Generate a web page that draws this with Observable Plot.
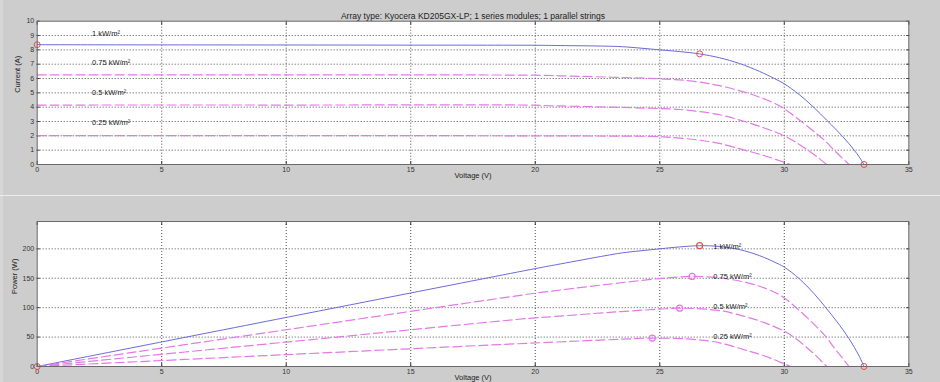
<!DOCTYPE html>
<html><head><meta charset="utf-8">
<script src="https://cdn.jsdelivr.net/npm/d3@7"></script>
<script src="https://cdn.jsdelivr.net/npm/@observablehq/plot@0.6"></script>
<style>
body{margin:0;background:#cdcdcd}
#fig{position:relative;width:940px;height:382px;background:#cdcdcd;overflow:hidden;font-family:"Liberation Sans",Arial,sans-serif}
.sep{position:absolute;left:0;top:195px;width:940px;height:1px;background:#ececec}
.edge{position:absolute;left:0;top:0;width:3px;height:382px;background:#d6d6d6}
#top,#bot{position:absolute;left:0}
#top{top:0}
#bot{top:196px}
</style>
</head><body>
<div id="fig"><div class="edge"></div><div class="sep"></div><div id="top"></div><div id="bot"></div></div>
<script>
// ---- data ----
const title = "Array type: Kyocera KD205GX-LP; 1 series modules; 1 parallel strings";
const seriesNames = ["1 kW/m²", "0.75 kW/m²", "0.5 kW/m²", "0.25 kW/m²"];

const V_1000 = [0, 3.4, 10, 15, 20, 21, 22.8, 23.5, 25, 25.8, 26.6, 27.4, 28.2, 29.0, 29.6, 30.0, 30.6, 31.2, 31.7, 32.1, 32.6, 33.0, 33.2];
const I_1000 = [8.36, 8.35, 8.34, 8.33, 8.32, 8.30, 8.26, 8.22, 8.00, 7.88, 7.72, 7.45, 7.05, 6.50, 6.00, 5.63, 4.88, 3.96, 3.10, 2.40, 1.45, 0.55, 0];
const P_1000 = [0, 28.4, 83.4, 125.0, 166.4, 174.3, 188.3, 193.2, 200.0, 203.3, 205.4, 204.1, 198.8, 188.5, 177.6, 168.9, 149.3, 123.6, 98.3, 77.0, 47.3, 18.2, 0];

const V_750 = [0, 10, 20, 21, 23.1, 25, 26.3, 27.4, 28.5, 29.3, 29.9, 30.5, 31.3, 31.7, 32.0, 32.3, 32.6];
const I_750 = [6.25, 6.25, 6.23, 6.19, 6.09, 5.98, 5.82, 5.50, 5.00, 4.50, 4.00, 3.25, 2.15, 1.55, 1.00, 0.50, 0];
const P_750 = [0, 62.5, 124.6, 130.0, 140.7, 149.5, 153.1, 150.7, 142.5, 131.9, 119.6, 99.1, 67.3, 49.1, 32.0, 16.2, 0];

const V_500 = [0, 10, 20, 20.6, 23.1, 25, 25.8, 27.4, 28.4, 29.2, 30.0, 30.4, 30.9, 31.3, 31.7];
const I_500 = [4.15, 4.15, 4.14, 4.10, 4.00, 3.90, 3.84, 3.47, 3.00, 2.55, 2.00, 1.62, 1.05, 0.55, 0];
const P_500 = [0, 41.5, 82.8, 84.5, 92.4, 97.5, 99.1, 95.1, 85.2, 74.5, 60.0, 49.2, 32.4, 17.2, 0];

const V_250 = [0, 10, 20, 23.4, 24.7, 25.5, 26.5, 27.4, 28.4, 28.8, 29.5, 30.0, 30.25];
const I_250 = [2.02, 2.02, 2.00, 1.98, 1.96, 1.88, 1.72, 1.47, 1.00, 0.82, 0.45, 0.15, 0];
const P_250 = [0, 20.2, 40.0, 46.3, 48.4, 47.9, 45.6, 40.3, 28.4, 23.6, 13.3, 4.5, 0];

// special points (circles)
const keyV_iv = [0, 26.6, 33.2];
const keyI_iv = [8.36, 7.72, 0];
const keyV_p = [0, 33.2];
const keyP_p = [0, 0];
const mppV = [26.6, 26.3, 25.8, 24.7];
const mppP = [205.4, 153.1, 99.1, 48.4];

// label anchors
const labelIV_V = [2.2, 2.2, 2.2, 2.2];
const labelIV_I = [9.15, 7.1, 5.0, 2.9];
const labelP_V = [27.15, 27.15, 27.15, 27.15];
const labelP_P = [204, 153, 101, 51];

// axes
const xTicks = [0, 5, 10, 15, 20, 25, 30, 35];
const yTicksI = [0, 1, 2, 3, 4, 5, 6, 7, 8, 9, 10];
const yTicksP = [0, 50, 100, 150, 200];
const xDomain = [0, 35];
const iDomain = [0, 10];
const pDomain = [0, 246.5];

// ---- build ----
const Vs = [V_1000, V_750, V_500, V_250];
const Is = [I_1000, I_750, I_500, I_250];
const Ps = [P_1000, P_750, P_500, P_250];
const blue = "#6b6bd6", magenta = "#e27ae6", red = "#e05050", gridC = "#333";
const font = "'Liberation Sans', Arial, sans-serif";

function seriesRows(k, ys) { return Vs[k].map((v, j) => ({v, y: ys[k][j]})); }

function commonMarks(yTicks, innerX, innerY) {
  return [
    Plot.frame({fill: "white"}),
    Plot.gridX(innerX, {stroke: gridC, strokeOpacity: 0.85, strokeDasharray: "1,2"}),
    Plot.gridY(innerY, {stroke: gridC, strokeOpacity: 0.85, strokeDasharray: "1,2"}),
    Plot.axisX({ticks: xTicks, tickSize: -3, tickPadding: 6, fontSize: 7, fill: "#333", label: null}),
    Plot.axisX({anchor: "top", ticks: xTicks, tickSize: -3, tickFormat: () => "", label: null}),
    Plot.axisY({ticks: yTicks, tickSize: -3, tickPadding: 6, fontSize: 7, fill: "#333", label: null}),
    Plot.axisY({anchor: "right", ticks: yTicks, tickSize: -3, tickFormat: () => "", label: null})
  ];
}

function lineMarks(ys) {
  return seriesNames.map((name, k) => Plot.line(seriesRows(k, ys), {
    x: "v", y: "y", curve: "catmull-rom",
    stroke: k === 0 ? blue : magenta, strokeWidth: k === 0 ? 1 : 1.2,
    strokeDasharray: k === 0 ? null : "9,4"
  }));
}

const ivLabels = seriesNames.map((t, k) => ({t, v: labelIV_V[k], y: labelIV_I[k]}));
const pLabels = seriesNames.map((t, k) => ({t, v: labelP_V[k], y: labelP_P[k]}));
const ivKeys = keyV_iv.map((v, k) => ({v, y: keyI_iv[k]}));
const pKeys = keyV_p.map((v, k) => ({v, y: keyP_p[k]}));
const mpps = mppV.map((v, k) => ({v, y: mppP[k], k}));

const topPlot = Plot.plot({
  width: 940, height: 195,
  marginLeft: 36.7, marginRight: 31.7, marginTop: 20.7, marginBottom: 31,
  style: {background: "transparent", fontFamily: font, fontSize: "7px", color: "#333", overflow: "visible"},
  x: {domain: xDomain, ticks: xTicks, label: null},
  y: {domain: iDomain, ticks: yTicksI, label: null},
  marks: [
    ...commonMarks(yTicksI, xTicks.slice(1, -1), yTicksI.slice(1, -1)),
    ...lineMarks(Is),
    Plot.dot(ivKeys, {x: "v", y: "y", r: 3, stroke: red, strokeWidth: 1}),
    Plot.frame({stroke: "#6a6a6a"}),
    Plot.text(ivLabels, {x: "v", y: "y", text: "t", textAnchor: "start", fontSize: 7.5, fill: "#222"}),
    Plot.text([title], {frameAnchor: "top", dy: -8, fontSize: 8.5, fill: "#222"}),
    Plot.text(["Voltage (V)"], {frameAnchor: "bottom", dy: 13.5, fontSize: 7.5, fill: "#222"}),
    Plot.text(["Current (A)"], {frameAnchor: "left", dx: -20, rotate: -90, fontSize: 7.5, fill: "#222"})
  ]
});
document.getElementById("top").append(topPlot);

const botPlot = Plot.plot({
  width: 940, height: 186,
  marginLeft: 36.7, marginRight: 31.7, marginTop: 25, marginBottom: 16,
  style: {background: "transparent", fontFamily: font, fontSize: "7px", color: "#333", overflow: "visible"},
  x: {domain: xDomain, ticks: xTicks, label: null},
  y: {domain: pDomain, ticks: yTicksP, label: null},
  marks: [
    ...commonMarks(yTicksP, xTicks.slice(1, -1), yTicksP.slice(1)),
    ...lineMarks(Ps),
    Plot.dot(pKeys, {x: "v", y: "y", r: 3, stroke: red, strokeWidth: 1}),
    Plot.dot(mpps, {x: "v", y: "y", r: 3, stroke: d => d.k === 0 ? red : magenta, strokeWidth: 1.2}),
    Plot.frame({stroke: "#6a6a6a"}),
    Plot.text(pLabels, {x: "v", y: "y", text: "t", textAnchor: "start", fontSize: 7.5, fill: "#222"}),
    Plot.text(["Voltage (V)"], {frameAnchor: "bottom", dy: 13, fontSize: 7.5, fill: "#222"}),
    Plot.text(["Power (W)"], {frameAnchor: "left", dx: -23, rotate: -90, fontSize: 7.5, fill: "#222"})
  ]
});
document.getElementById("bot").append(botPlot);
</script>
</body></html>
